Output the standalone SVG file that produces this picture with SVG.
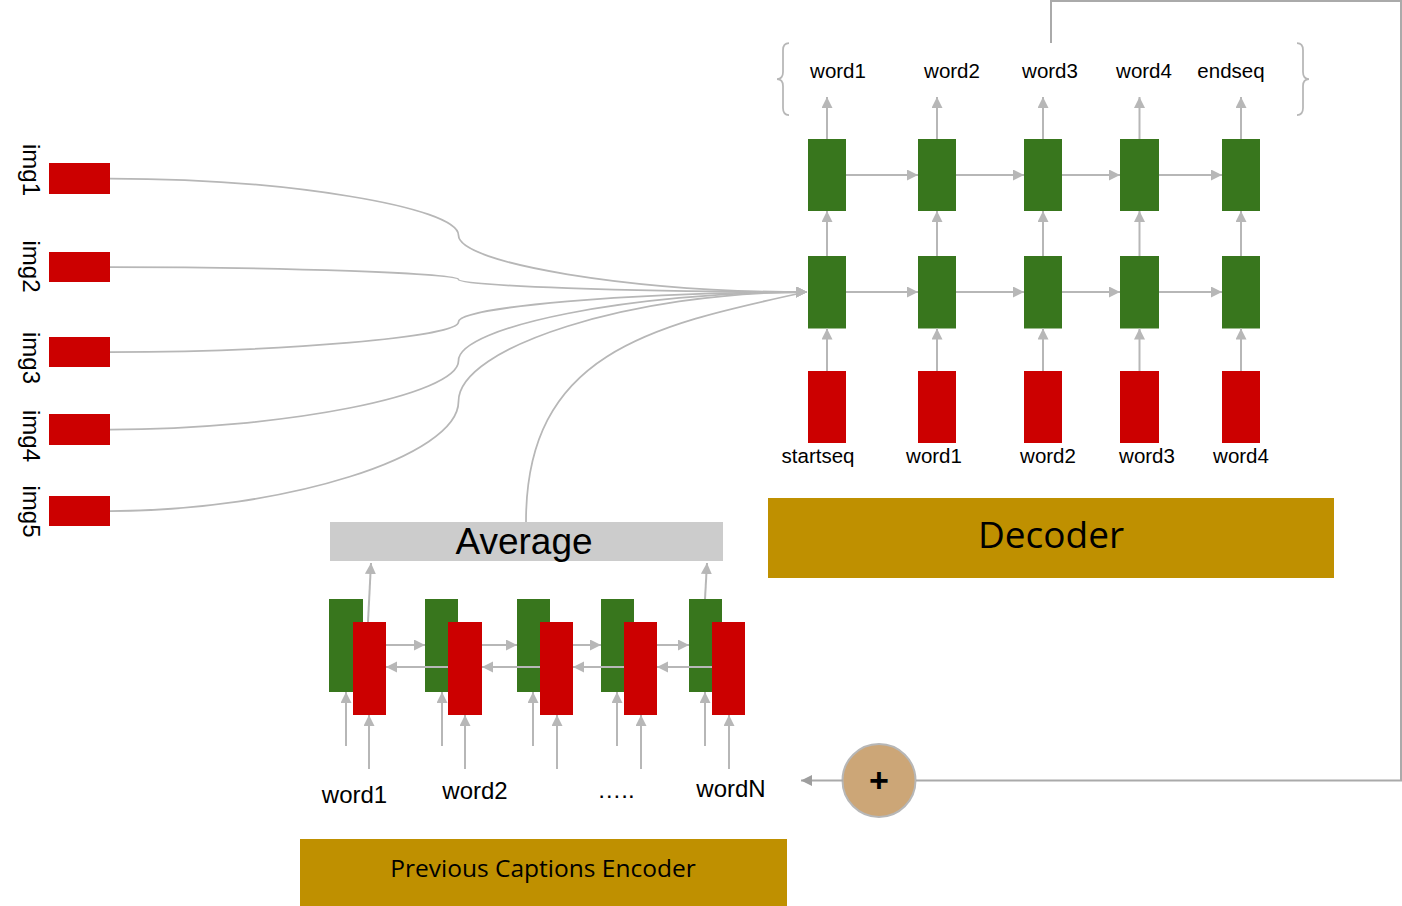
<svg xmlns="http://www.w3.org/2000/svg" width="1402" height="906" viewBox="0 0 1402 906">
<defs>
<style>
.g{fill:#38761d}
.r{fill:#cc0000}
.gold{fill:#bf9000}
.ln{stroke:#b7b7b7;stroke-width:2;fill:none}
.cv{stroke:#b7b7b7;stroke-width:1.75;fill:none}
.fb{stroke:#aaaaaa;stroke-width:2;fill:none}
.t{font-family:"Liberation Sans",Arial,sans-serif;fill:#000}
.o{font-family:"Open Sans","Noto Sans",sans-serif;fill:#000}
</style>
<marker id="ah" markerUnits="userSpaceOnUse" markerWidth="12" markerHeight="12" refX="11" refY="5.5" orient="auto"><path d="M0,0 L11,5.5 L0,11 z" fill="#b7b7b7"/></marker>
<marker id="ah2" markerUnits="userSpaceOnUse" markerWidth="12" markerHeight="12" refX="11" refY="5.5" orient="auto"><path d="M0,0 L11,5.5 L0,11 z" fill="#9e9e9e"/></marker>
</defs>
<rect width="1402" height="906" fill="#ffffff"/>

<!-- image feature nodes -->
<g id="img1"><rect class="r" x="49" y="163" width="61" height="31"/><text class="t" font-size="24" text-anchor="middle" transform="translate(23,170) rotate(90)">img1</text></g>
<g id="img2"><rect class="r" x="49" y="252" width="61" height="30"/><text class="t" font-size="24" text-anchor="middle" transform="translate(23,266.5) rotate(90)">img2</text></g>
<g id="img3"><rect class="r" x="49" y="337" width="61" height="30"/><text class="t" font-size="24" text-anchor="middle" transform="translate(23,358) rotate(90)">img3</text></g>
<g id="img4"><rect class="r" x="49" y="414" width="61" height="31"/><text class="t" font-size="24" text-anchor="middle" transform="translate(23,436) rotate(90)">img4</text></g>
<g id="img5"><rect class="r" x="49" y="496" width="61" height="30"/><text class="t" font-size="24" text-anchor="middle" transform="translate(23,511.5) rotate(90)">img5</text></g>

<!-- decoder columns -->
<g id="dec1"><rect class="g" x="808" y="139" width="38" height="72"/><rect class="g" x="808" y="256" width="38" height="72.5"/><rect class="r" x="808" y="371" width="38" height="72"/>
<text class="t" font-size="20.5" text-anchor="middle" x="838" y="78">word1</text><text class="t" font-size="20.5" text-anchor="middle" x="818" y="463">startseq</text></g>
<g id="dec2"><rect class="g" x="918" y="139" width="38" height="72"/><rect class="g" x="918" y="256" width="38" height="72.5"/><rect class="r" x="918" y="371" width="38" height="72"/>
<text class="t" font-size="20.5" text-anchor="middle" x="952" y="78">word2</text><text class="t" font-size="20.5" text-anchor="middle" x="934" y="463">word1</text></g>
<g id="dec3"><rect class="g" x="1024" y="139" width="38" height="72"/><rect class="g" x="1024" y="256" width="38" height="72.5"/><rect class="r" x="1024" y="371" width="38" height="72"/>
<text class="t" font-size="20.5" text-anchor="middle" x="1050" y="78">word3</text><text class="t" font-size="20.5" text-anchor="middle" x="1048" y="463">word2</text></g>
<g id="dec4"><rect class="g" x="1120" y="139" width="39" height="72"/><rect class="g" x="1120" y="256" width="39" height="72.5"/><rect class="r" x="1120" y="371" width="39" height="72"/>
<text class="t" font-size="20.5" text-anchor="middle" x="1144" y="78">word4</text><text class="t" font-size="20.5" text-anchor="middle" x="1147" y="463">word3</text></g>
<g id="dec5"><rect class="g" x="1222" y="139" width="38" height="72"/><rect class="g" x="1222" y="256" width="38" height="72.5"/><rect class="r" x="1222" y="371" width="38" height="72"/>
<text class="t" font-size="20.5" text-anchor="middle" x="1231" y="78">endseq</text><text class="t" font-size="20.5" text-anchor="middle" x="1241" y="463">word4</text></g>

<g id="braces" class="cv">
<path d="M789,43 Q783,43 783,50 L783,72 Q783,79 777,79 Q783,79 783,86 L783,108 Q783,115 789,115"/>
<path d="M1297,43 Q1303,43 1303,50 L1303,72 Q1303,79 1309,79 Q1303,79 1303,86 L1303,108 Q1303,115 1297,115"/>
</g>

<g id="decoder"><rect class="gold" x="768" y="498" width="566" height="80"/><text class="o" font-size="37" text-anchor="middle" x="1051" y="548">Decoder</text></g>

<g id="average"><rect x="330" y="522" width="393" height="39" fill="#cccccc"/><text class="t" font-size="37" text-anchor="middle" x="524" y="554">Average</text></g>

<!-- encoder cells -->
<g id="enc1"><rect class="g" x="329" y="599" width="34" height="93"/><rect class="r" x="353" y="622" width="33" height="93"/></g>
<g id="enc2"><rect class="g" x="425" y="599" width="33" height="93"/><rect class="r" x="448" y="622" width="34" height="93"/></g>
<g id="enc3"><rect class="g" x="517" y="599" width="33" height="93"/><rect class="r" x="540" y="622" width="33" height="93"/></g>
<g id="enc4"><rect class="g" x="601" y="599" width="33" height="93"/><rect class="r" x="624" y="622" width="33" height="93"/></g>
<g id="enc5"><rect class="g" x="689" y="599" width="33" height="93"/><rect class="r" x="712" y="622" width="33" height="93"/></g>

<g id="enc-labels">
<text class="t" font-size="24" text-anchor="middle" x="354.5" y="803">word1</text>
<text class="t" font-size="24" text-anchor="middle" x="475" y="799">word2</text>
<text class="t" font-size="24" text-anchor="middle" x="616" y="798">…..</text>
<text class="t" font-size="24" text-anchor="middle" x="731" y="797">wordN</text>
</g>

<g id="prev-encoder"><rect class="gold" x="300" y="839" width="487" height="67"/><text class="o" font-size="24.5" text-anchor="middle" x="543" y="877">Previous Captions Encoder</text></g>

<g id="plus"><circle cx="879" cy="780.5" r="36.5" fill="#cca677" stroke="#b7b7b7" stroke-width="2"/><text class="t" font-size="34" font-weight="bold" text-anchor="middle" x="879" y="792">+</text></g>

<!-- connectors -->
<g id="connectors">
<g class="cv">
<path d="M110,178.5 C284,178.5 458.5,206.9 458.5,235.3 C458.5,263.6 633,292 807,292" marker-end="url(#ah)"/>
<path d="M110,267 C284,267 458.5,273.3 458.5,279.5 C458.5,285.8 633,292 807,292" marker-end="url(#ah)"/>
<path d="M110,352 C284,352 458.5,337 458.5,322 C458.5,307 633,292 807,292" marker-end="url(#ah)"/>
<path d="M110,429.5 C284,429.5 458.5,395.1 458.5,360.75 C458.5,326.4 633,292 807,292" marker-end="url(#ah)"/>
<path d="M110,511 C284,511 458.5,456.25 458.5,401.5 C458.5,346.75 633,292 807,292" marker-end="url(#ah)"/>
<path d="M526,522 C526,354 648,326 806,292"/>
</g>
<g class="ln">
<path d="M846,175 H918" marker-end="url(#ah)"/><path d="M956,175 H1024" marker-end="url(#ah)"/><path d="M1062,175 H1120" marker-end="url(#ah)"/><path d="M1159,175 H1222" marker-end="url(#ah)"/>
<path d="M846,292 H918" marker-end="url(#ah)"/><path d="M956,292 H1024" marker-end="url(#ah)"/><path d="M1062,292 H1120" marker-end="url(#ah)"/><path d="M1159,292 H1222" marker-end="url(#ah)"/>
<path d="M827,371 V328.5" marker-end="url(#ah)"/><path d="M937,371 V328.5" marker-end="url(#ah)"/><path d="M1043,371 V328.5" marker-end="url(#ah)"/><path d="M1139.5,371 V328.5" marker-end="url(#ah)"/><path d="M1241,371 V328.5" marker-end="url(#ah)"/>
<path d="M827,256 V211" marker-end="url(#ah)"/><path d="M937,256 V211" marker-end="url(#ah)"/><path d="M1043,256 V211" marker-end="url(#ah)"/><path d="M1139.5,256 V211" marker-end="url(#ah)"/><path d="M1241,256 V211" marker-end="url(#ah)"/>
<path d="M827,139 V97" marker-end="url(#ah)"/><path d="M937,139 V97" marker-end="url(#ah)"/><path d="M1043,139 V97" marker-end="url(#ah)"/><path d="M1139.5,139 V97" marker-end="url(#ah)"/><path d="M1241,139 V97" marker-end="url(#ah)"/>
<path d="M386,645 H425" marker-end="url(#ah)"/><path d="M482,645 H517" marker-end="url(#ah)"/><path d="M573,645 H601" marker-end="url(#ah)"/><path d="M657,645 H689" marker-end="url(#ah)"/>
<path d="M448,667 H386" marker-end="url(#ah)"/><path d="M540,667 H482" marker-end="url(#ah)"/><path d="M624,667 H573" marker-end="url(#ah)"/><path d="M712,667 H657" marker-end="url(#ah)"/>
<path d="M346,746 V692" marker-end="url(#ah)"/><path d="M369,769 V715" marker-end="url(#ah)"/>
<path d="M442,746 V692" marker-end="url(#ah)"/><path d="M465,769 V715" marker-end="url(#ah)"/>
<path d="M533,746 V692" marker-end="url(#ah)"/><path d="M557,769 V715" marker-end="url(#ah)"/>
<path d="M617,746 V692" marker-end="url(#ah)"/><path d="M641,769 V715" marker-end="url(#ah)"/>
<path d="M705,746 V692" marker-end="url(#ah)"/><path d="M729,769 V715" marker-end="url(#ah)"/>
<path d="M368,622 L371,563" marker-end="url(#ah)"/>
<path d="M705,599 L707,563" marker-end="url(#ah)"/>
</g>
<path class="fb" d="M1051,43 V1 H1401 V780.5 H916"/>
<path class="fb" d="M843,780.5 H801" marker-end="url(#ah2)"/>
</g>
</svg>
